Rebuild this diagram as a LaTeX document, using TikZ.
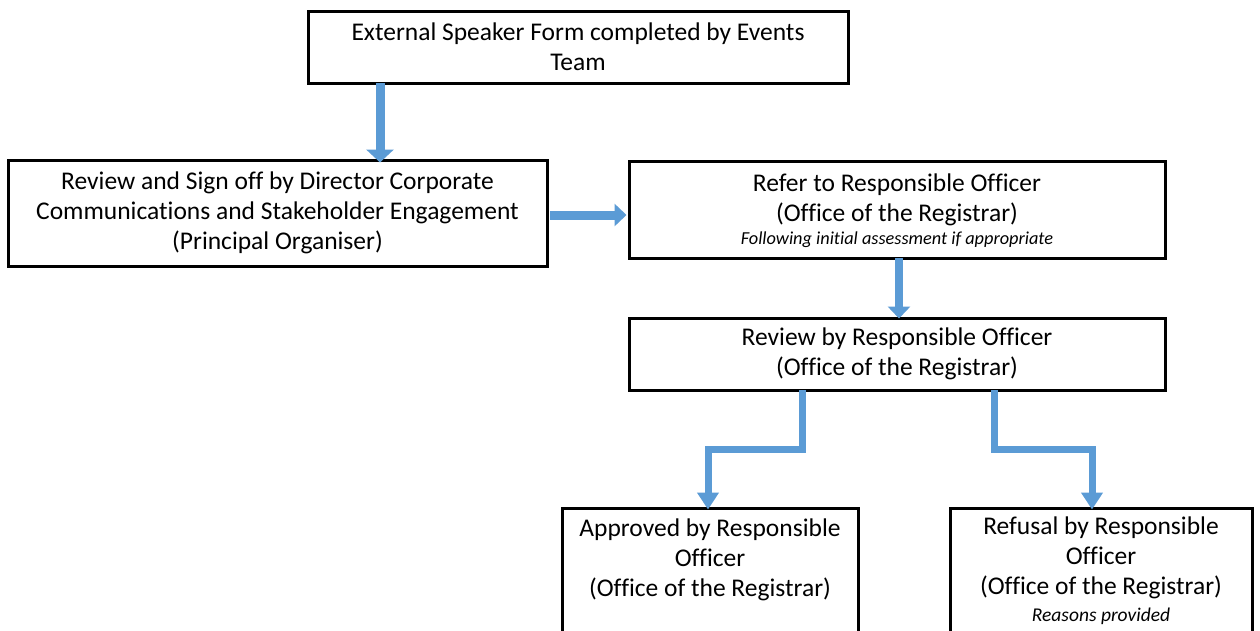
\documentclass[tikz,border=0pt]{standalone}
\usepackage{fontspec}
\setmainfont[Ligatures=NoCommon]{Carlito}
\usetikzlibrary{arrows.meta}
\definecolor{flowblue}{RGB}{91,155,213}
\begin{document}
\begin{tikzpicture}[x=1pt,y=-1pt,
  box/.style={draw=black, line width=3pt, inner sep=0pt},
  txt/.style={align=center, inner sep=0pt, font=\fontsize{25.5}{30}\selectfont},
  note/.style={align=center, inner sep=0pt, font=\itshape\fontsize{#1}{20}\selectfont},
  flow/.style={draw=flowblue, line width=#1, line join=miter},
]
\useasboundingbox (0,0) rectangle (1260,630);
\clip (0,0) rectangle (1260,630);
\fill[white] (0,0) rectangle (1260,630);

% boxes
\node[box, minimum width=540pt, minimum height=72pt] (b1) at (578,47) {};
\node[box, minimum width=539pt, minimum height=106pt] (b2) at (277.5,213) {};
\node[box, minimum width=536pt, minimum height=97pt] (b3) at (897,209.5) {};
\node[box, minimum width=536pt, minimum height=72pt] (b4) at (897,354) {};
\node[box, minimum width=296pt, minimum height=150pt] (b5) at (710,583) {};
\node[box, minimum width=302pt, minimum height=150pt] (b6) at (1101,583) {};

% texts
\node[txt] (t1) at (578,47) {External Speaker Form completed by Events\\Team};
\node[txt] (t2) at (277.5,213) {Review and Sign off by Director Corporate\\Communications and Stakeholder Engagement\\(Principal Organiser)};
\node[txt] (t3) at (897,199.5) {Refer to Responsible Officer\\(Office of the Registrar)};
\node[note=18.3] (n3) at (897,240) {Following initial assessment if appropriate};
\node[txt] (t4) at (897,354) {Review by Responsible Officer\\(Office of the Registrar)};
\node[txt] (t5) at (710,560) {Approved by Responsible\\Officer\\(Office of the Registrar)};
\node[txt] (t6) at (1101,558) {Refusal by Responsible\\Officer\\(Office of the Registrar)};
\node[note=19.5] (n6) at (1101,616) {Reasons provided};

% connectors
\coordinate (a1s) at (b1.south -| 380,0);
\coordinate (a1e) at (b2.north -| 380,0);
\draw[flow=9pt, -{Triangle[width=27pt,length=13pt]}] ([yshift=1.5pt]a1s) -- ([yshift=-4pt]a1e);

\coordinate (a2s) at (b2.east |- 0,215);
\coordinate (a2e) at (b3.west |- 0,215);
\draw[flow=9pt, -{Triangle[width=22pt,length=12pt]}] ([xshift=1.5pt]a2s) -- ([xshift=-1pt]a2e);

\coordinate (a3s) at (b3.south -| 899,0);
\coordinate (a3e) at (b4.north -| 899,0);
\draw[flow=8pt, -{Triangle[width=22pt,length=12pt]}] ([yshift=1.5pt]a3s) -- ([yshift=-2pt]a3e);

\coordinate (a4s) at (b4.south -| 802,0);
\coordinate (a4e) at (b5.north -| 708,0);
\draw[flow=7pt, -{Triangle[width=21pt,length=17pt]}] ([yshift=1.5pt]a4s) |- (708,449) -- ([yshift=-3pt]a4e);

\coordinate (a5s) at (b4.south -| 994,0);
\coordinate (a5e) at (b6.north -| 1092,0);
\draw[flow=7pt, -{Triangle[width=21pt,length=17pt]}] ([yshift=1.5pt]a5s) |- (1092,449) -- ([yshift=-3pt]a5e);
\end{tikzpicture}
\end{document}
